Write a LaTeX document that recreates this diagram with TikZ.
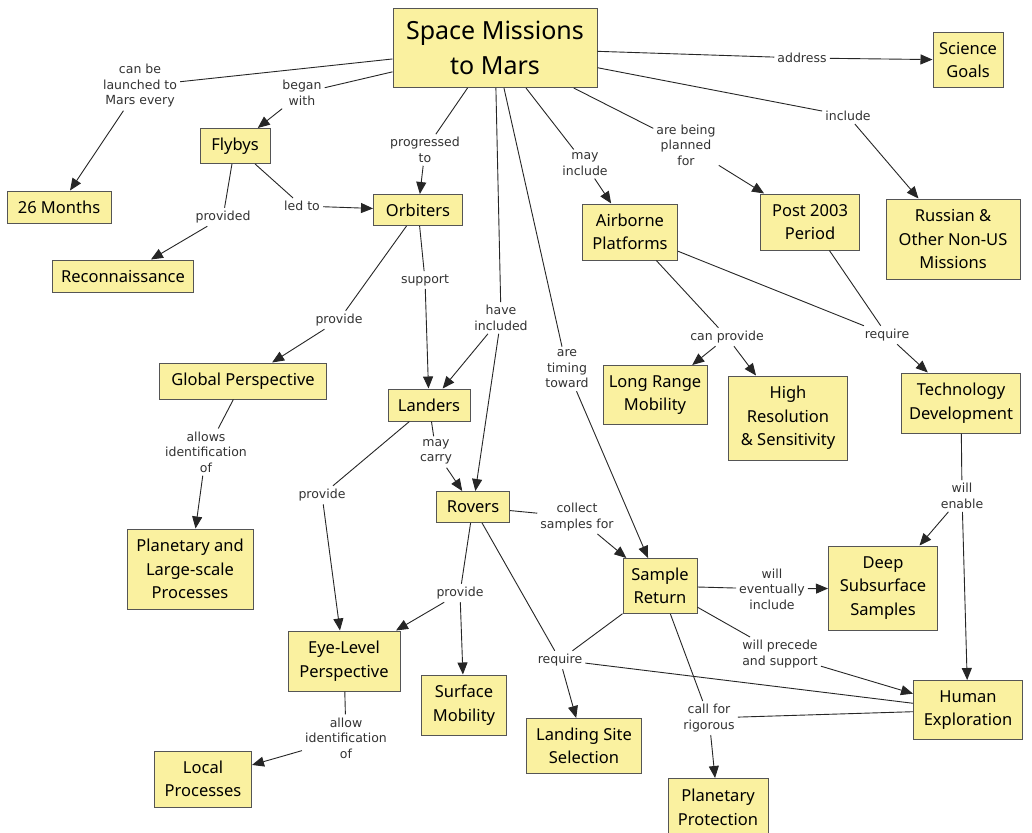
\documentclass[tikz,border=0pt]{standalone}
\usepackage{fontspec}
\usetikzlibrary{arrows.meta}
\newfontfamily\nodefont{Noto Sans}
\newfontfamily\lblfont{DejaVu Sans}
\definecolor{yellowC}{RGB}{250,241,160}
\definecolor{edgeC}{RGB}{85,85,85}
\tikzset{
  concept/.style={draw=edgeC, fill=yellowC, line width=1pt, align=center, inner sep=0pt,
    font=\nodefont\fontsize{16.5}{23.5}\selectfont},
  title/.style={concept, font=\nodefont\fontsize{25}{35}\selectfont},
  lbl/.style={align=center, inner sep=3pt, text=black!80,
    font=\lblfont\fontsize{12.5}{15.5}\selectfont},
  link/.style={line width=0.9pt, black!85},
  arr/.style={link, -{Triangle[length=12pt,width=10pt]}},
}
\newcommand{\cbox}[5]{\node[concept, minimum width=#3, minimum height=#4] (#1) at (#2) {#5};}
\begin{document}
\begin{tikzpicture}[x=1pt,y=-1pt]
\fill[white] (0,0) rectangle (1032,832);
\useasboundingbox (0,0) rectangle (1032,832);
% concepts
\node[title, minimum width=204, minimum height=79] (space) at (495,48) {Space Missions\\to Mars};
\cbox{science}{968,60}{70}{55}{Science\\Goals}
\cbox{months}{59,207}{104}{32}{26 Months}
\cbox{flybys}{235,146}{70}{35}{Flybys}
\cbox{orbiters}{418,210}{89}{31}{Orbiters}
\cbox{recon}{123,276}{141}{32}{Reconnaissance}
\cbox{airborne}{630,232}{95}{56}{Airborne\\Platforms}
\cbox{post}{810,222}{99}{56}{Post 2003\\Period}
\cbox{russian}{953,239}{134}{80}{Russian \&\\Other Non-US\\Missions}
\cbox{global}{243,381}{167}{36}{Global Perspective}
\cbox{landers}{429,405}{82}{32}{Landers}
\cbox{rovers}{473,507}{73}{31}{Rovers}
\cbox{planetary}{190,569}{126}{80}{Planetary and\\Large-scale\\Processes}
\cbox{longrange}{655,395}{104}{59}{Long Range\\Mobility}
\cbox{highres}{788,418}{119}{84}{High\\Resolution\\\& Sensitivity}
\cbox{techdev}{961,403}{119}{60}{Technology\\Development}
\cbox{sample}{660,586}{74}{55}{Sample\\Return}
\cbox{deep}{883,588}{109}{84}{Deep\\Subsurface\\Samples}
\cbox{eye}{344,661}{112}{60}{Eye-Level\\Perspective}
\cbox{surface}{464,705}{85}{60}{Surface\\Mobility}
\cbox{local}{203,779}{97}{56}{Local\\Processes}
\cbox{landing}{584,746}{115}{55}{Landing Site\\Selection}
\node[concept, minimum width=100, minimum height=58, anchor=north] (protect) at (718,778) {Planetary\\Protection};
\cbox{human}{968,710}{109}{59}{Human\\Exploration}
% linking phrases
\node[lbl] (lLaunch) at (140,86) {can be\\launched to\\Mars every};
\node[lbl] (lBegan) at (302,93) {began\\with};
\node[lbl] (lProg) at (425,150) {progressed\\to};
\node[lbl] (lProvided) at (223,217) {provided};
\node[lbl] (lLed) at (302,206) {led to};
\node[lbl] (lSupport) at (425,280) {support};
\node[lbl] (lAddress) at (802,58) {address};
\node[lbl] (lInclude) at (848,116) {include};
\node[lbl] (lMayInc) at (585,164) {may\\include};
\node[lbl] (lPlanned) at (686,145) {are being\\planned\\for};
\node[lbl] (lProvO) at (339,320) {provide};
\node[lbl] (lHave) at (501,318) {have\\included};
\node[lbl] (lTiming) at (567,369) {are\\timing\\toward};
\node[lbl] (lCanProv) at (727,337) {can provide};
\node[lbl] (lReqT) at (887,335) {require};
\node[lbl] (lAllows) at (206,452) {allows\\identification\\of};
\node[lbl] (lCarry) at (436,452) {may\\carry};
\node[lbl] (lProvL) at (322,495) {provide};
\node[lbl] (lCollect) at (577,517) {collect\\samples for};
\node[lbl] (lEnable) at (962,496) {will\\enable};
\node[lbl] (lEvent) at (772,589) {will\\eventually\\include};
\node[lbl] (lProvR) at (460,593) {provide};
\node[lbl] (lPrecede) at (780,654) {will precede\\and support};
\node[lbl] (lReqB) at (560,660) {require};
\node[lbl] (lCall) at (709,718) {call for\\rigorous};
\node[lbl] (lAllow) at (346,738) {allow\\identification\\of};
% connectors
\draw[link] (space) -- (lLaunch); \draw[arr] (lLaunch) -- (months);
\draw[link] (space) -- (lBegan); \draw[arr] (lBegan) -- (flybys);
\draw[link] (space) -- (lProg); \draw[arr] (lProg) -- (orbiters);
\draw[link] (flybys) -- (lProvided); \draw[arr] (lProvided) -- (recon);
\draw[link] (flybys) -- (lLed); \draw[arr] (lLed) -- (orbiters);
\draw[link] (orbiters) -- (lSupport); \draw[arr] (lSupport) -- (landers);
\draw[link] (orbiters) -- (lProvO); \draw[arr] (lProvO) -- (global);
\draw[link] (space) -- (lAddress); \draw[arr] (lAddress) -- (science);
\draw[link] (space) -- (lInclude); \draw[arr] (lInclude) -- (russian);
\draw[link] (space) -- (lMayInc); \draw[arr] (lMayInc) -- (airborne);
\draw[link] (space) -- (lPlanned); \draw[arr] (lPlanned) -- (post);
\draw[link] (space) -- (lHave); \draw[arr] (lHave) -- (landers); \draw[arr] (lHave) -- (rovers);
\draw[link] (space) -- (lTiming); \draw[arr] (lTiming) -- (sample);
\draw[link] (airborne) -- (lCanProv); \draw[arr] (lCanProv) -- (longrange); \draw[arr] (lCanProv) -- (highres);
\draw[link] (airborne) -- (lReqT); \draw[link] (post) -- (lReqT); \draw[arr] (lReqT) -- (techdev);
\draw[link] (global) -- (lAllows); \draw[arr] (lAllows) -- (planetary);
\draw[link] (landers) -- (lCarry); \draw[arr] (lCarry) -- (rovers);
\draw[link] (landers) -- (lProvL); \draw[arr] (lProvL) -- (eye);
\draw[link] (rovers) -- (lCollect); \draw[arr] (lCollect) -- (sample);
\draw[link] (techdev) -- (lEnable); \draw[arr] (lEnable) -- (deep); \draw[arr] (lEnable) -- (human);
\draw[link] (sample) -- (lEvent); \draw[arr] (lEvent) -- (deep);
\draw[link] (rovers) -- (lProvR); \draw[arr] (lProvR) -- (eye); \draw[arr] (lProvR) -- (surface);
\draw[link] (sample) -- (lPrecede); \draw[arr] (lPrecede) -- (human);
\draw[link] (rovers) -- (lReqB); \draw[link] (sample) -- (lReqB); \draw[link] (human) -- (lReqB); \draw[arr] (lReqB) -- (landing);
\draw[link] (sample) -- (lCall); \draw[link] (human) -- (lCall); \draw[arr] (lCall) -- (protect);
\draw[link] (eye) -- (lAllow); \draw[arr] (lAllow) -- (local);
\end{tikzpicture}
\end{document}
